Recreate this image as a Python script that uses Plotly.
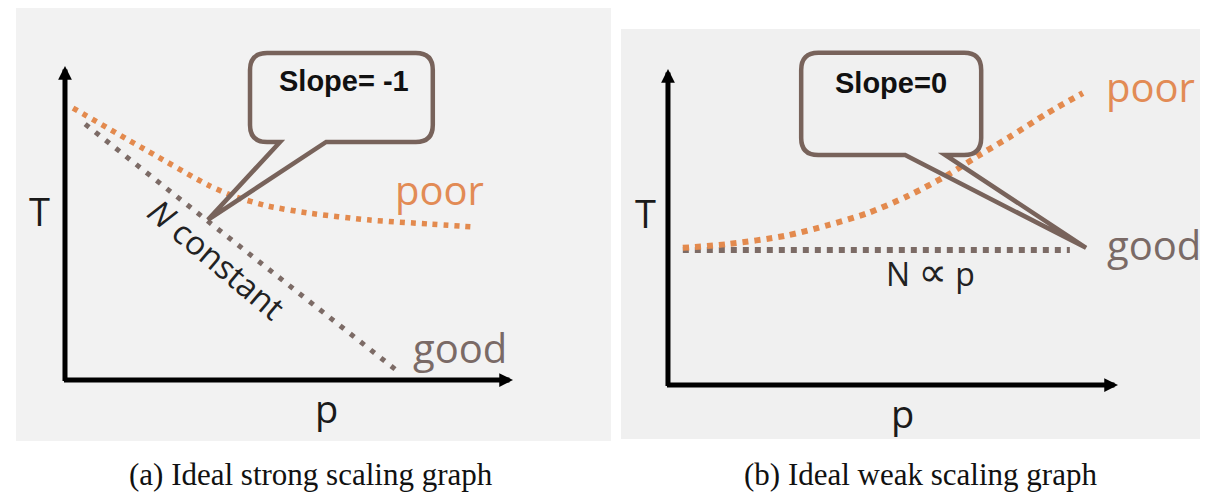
import plotly.graph_objects as go

# ---------------- data ----------------
# Panel (a): ideal strong scaling, T vs p
a_p_poor = [0.18, 1.85, 3.19, 3.75, 4.53, 5.42, 6.76, 8.10, 9.15]
a_T_poor = [8.66, 7.29, 6.21, 5.86, 5.54, 5.32, 5.10, 4.97, 4.87]
a_p_good = [0.45, 7.39]
a_T_good = [8.15, 0.32]

# Panel (b): ideal weak scaling, T vs p
b_p_poor = [0.33, 1.33, 2.60, 3.56, 4.44, 5.33, 6.22, 6.89, 7.56, 8.44, 9.22]
b_T_poor = [4.34, 4.46, 4.72, 5.06, 5.44, 5.98, 6.65, 7.25, 7.82, 8.61, 9.24]
b_p_good = [0.33, 8.93]
b_T_good = [4.27, 4.27]

captions = ["(a) Ideal strong scaling graph", "(b) Ideal weak scaling graph"]
callout_texts = ["Slope= -1", "Slope=0"]

# ---------------- styles ----------------
ORANGE = "#E38A4E"
ORANGE_TXT = "#E28B55"
GOOD = "#7C6B66"
GOOD_TXT = "#7A6A66"
BUBBLE = "#78635B"
SANS = "Open Sans, Lato, sans-serif"

fig = go.Figure()

fig.add_trace(go.Scatter(x=a_p_good, y=a_T_good, mode="lines", xaxis="x", yaxis="y",
                         line=dict(color=GOOD, width=5, dash="5px,8px"), hoverinfo="skip"))
fig.add_trace(go.Scatter(x=a_p_poor, y=a_T_poor, mode="lines", xaxis="x", yaxis="y",
                         line=dict(color=ORANGE, width=5.5, dash="5px,6px", shape="spline", smoothing=0.6),
                         hoverinfo="skip"))
fig.add_trace(go.Scatter(x=b_p_good, y=b_T_good, mode="lines", xaxis="x2", yaxis="y2",
                         line=dict(color=GOOD, width=6, dash="6px,6px"), hoverinfo="skip"))
fig.add_trace(go.Scatter(x=b_p_poor, y=b_T_poor, mode="lines", xaxis="x2", yaxis="y2",
                         line=dict(color=ORANGE, width=6, dash="6px,6px", shape="spline", smoothing=0.8),
                         hoverinfo="skip"))


def bubble(x0, x1, yb, yt, rx, ry, bl, br, tx, ty):
    return (f"M {x0+rx},{yt} L {x1-rx},{yt} Q {x1},{yt} {x1},{yt-ry} "
            f"L {x1},{yb+ry} Q {x1},{yb} {x1-rx},{yb} L {br},{yb} L {tx},{ty} "
            f"L {bl},{yb} L {x0+rx},{yb} Q {x0},{yb} {x0},{yb+ry} "
            f"L {x0},{yt-ry} Q {x0},{yt} {x0+rx},{yt} Z")


shapes = [
    # panel backgrounds
    dict(type="rect", xref="paper", yref="paper", x0=8/1208, x1=603/1208, y0=(495-433)/495, y1=1.0,
         fillcolor="#f2f2f2", line=dict(width=0), layer="below"),
    dict(type="rect", xref="paper", yref="paper", x0=613/1208, x1=1.0, y0=(495-431)/495, y1=(495-21)/495,
         fillcolor="#f0f0f0", line=dict(width=0), layer="below"),
    # callouts
    dict(type="path", xref="x", yref="y",
         path=bubble(4.13, 8.21, 7.58, 10.41, 0.38, 0.54, 4.80, 5.83, 3.19, 5.10),
         line=dict(color=BUBBLE, width=4.5), fillcolor="rgba(0,0,0,0)", layer="above"),
    dict(type="path", xref="x2", yref="y2",
         path=bubble(2.96, 6.96, 7.28, 10.51, 0.38, 0.54, 5.27, 6.16, 9.29, 4.34),
         line=dict(color=BUBBLE, width=4.5), fillcolor="rgba(0,0,0,0)", layer="above"),
]

ann = []
# axis arrows
for xr, yr, dx, dy in [("x", "y", 0.056, 0.08), ("x2", "y2", 0.056, 0.08)]:
    ann.append(dict(x=0, y=10, ax=0, ay=-dy, xref=xr, yref=yr, axref=xr, ayref=yr, text="",
                    showarrow=True, arrowhead=2, arrowsize=0.55, arrowwidth=5, arrowcolor="black"))
    ann.append(dict(x=10, y=0, ax=-dx, ay=0, xref=xr, yref=yr, axref=xr, ayref=yr, text="",
                    showarrow=True, arrowhead=2, arrowsize=0.55, arrowwidth=5, arrowcolor="black"))


def txt(x, y, s, xr, yr, size, color, family=SANS, angle=0):
    ann.append(dict(x=x, y=y, text=s, xref=xr, yref=yr, showarrow=False, textangle=angle,
                    font=dict(family=family, size=size, color=color), xanchor="center", yanchor="middle"))


# panel (a) texts
txt(-0.58, 5.38, "T", "x", "y", 38, "#1a1a1a")
txt(5.83, -0.89, "p", "x", "y", 38, "#1a1a1a")
txt(8.35, 6.08, "poor", "x", "y", 40, ORANGE_TXT)
txt(8.82, 1.05, "good", "x", "y", 40, GOOD_TXT)
txt(3.40, 3.85, "<i>N</i> constant", "x", "y", 33, "#222222", angle=40)
txt(6.22, 9.52, "<b>" + callout_texts[0] + "</b>", "x", "y", 29, "#111111", family="Liberation Sans, Arial")

# panel (b) texts
txt(-0.49, 5.44, "T", "x2", "y2", 38, "#1a1a1a")
txt(5.22, -0.89, "p", "x2", "y2", 38, "#1a1a1a")
txt(10.73, 9.46, "poor", "x2", "y2", 40, ORANGE_TXT)
txt(10.80, 4.46, "good", "x2", "y2", 40, GOOD_TXT)
txt(5.84, 3.58, "N <span style='font-family:DejaVu Sans;font-size:40px'>∝</span> p", "x2", "y2", 32, "#222222")
txt(4.96, 9.56, "<b>" + callout_texts[1] + "</b>", "x2", "y2", 29, "#111111", family="Liberation Sans, Arial")

# captions
for cx, cap in zip([303/1208, 913/1208], captions):
    ann.append(dict(x=cx, y=(495-466)/495, xref="paper", yref="paper", text=cap, showarrow=False,
                    xanchor="center", yanchor="middle",
                    font=dict(family="Liberation Serif, serif", size=31, color="#111111")))

ax_common = dict(visible=False, showgrid=False, zeroline=False, fixedrange=True)
fig.update_layout(
    width=1208, height=495, margin=dict(l=0, r=0, t=0, b=0),
    paper_bgcolor="white", plot_bgcolor="rgba(0,0,0,0)", showlegend=False,
    xaxis=dict(domain=[0, 0.5], range=[-1.272, 12.21], **ax_common),
    yaxis=dict(domain=[0, 1], range=[-3.917, 11.847], anchor="x", **ax_common),
    xaxis2=dict(domain=[0.5, 1], range=[-1.244, 12.178], anchor="y2", **ax_common),
    yaxis2=dict(domain=[0, 1], range=[-3.734, 11.930], anchor="x2", **ax_common),
    shapes=shapes, annotations=ann,
)

fig.write_html("out.html")
